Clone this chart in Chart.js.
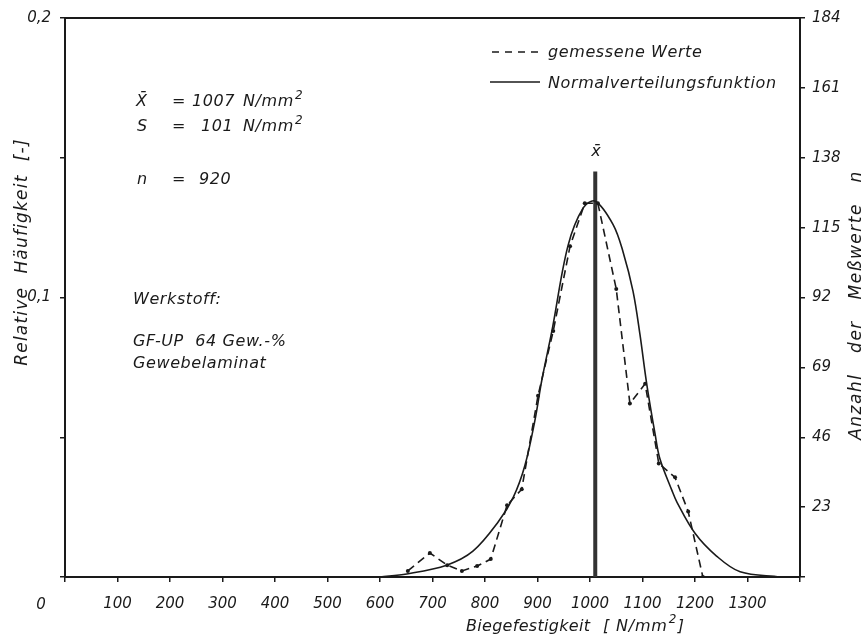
<!DOCTYPE html>
<html><head><meta charset="utf-8">
<script src="https://cdn.jsdelivr.net/npm/chart.js@4"></script>
<style>html,body{margin:0;padding:0;background:#fff}canvas{display:block}</style>
</head><body>
<canvas id="c" width="868" height="638"></canvas>
<script>
// measured values (gemessene Werte): Biegefestigkeit [N/mm2] vs. count n
const measX = [653, 695, 728, 756, 785, 811, 842, 870, 901, 930, 962, 990, 1015, 1050, 1076, 1105, 1131, 1162, 1187, 1215];
const measN = [2.0, 7.9, 3.9, 2.0, 3.6, 5.9, 23.6, 28.9, 59.7, 81.0, 108.9, 123.0, 123.0, 94.8, 57.1, 63.6, 37.4, 32.8, 21.6, 0];
// normal distribution curve
const curveX = [600, 651, 727, 777, 825, 854, 876, 895, 908, 928, 958, 987, 1010, 1044, 1063, 1082, 1095, 1108, 1124, 1133, 1156, 1166, 1200, 1241, 1286, 1362];
const curveN = [0, 1.0, 3.9, 8.5, 18.1, 26.3, 36.7, 51.5, 64.6, 81.5, 109, 121.5, 123.7, 116, 107, 94, 80, 63.6, 47, 39, 28.5, 24.5, 14.4, 6.9, 1.7, 0];
// mean marker
const meanX = [1010, 1010];
const meanN = [0, 133.5];
// tick labels
const relTickValues = [0.1, 0.2];
const relTickLabels = ['0,1', '0,2'];
const countTicks = [23, 46, 69, 92, 115, 138, 161, 184];
const strengthTicks = [100, 200, 300, 400, 500, 600, 700, 800, 900, 1000, 1100, 1200, 1300];

const INK = '#1a1a1a';
const FONT = '"DejaVu Sans", sans-serif';
const tickFont = {family: FONT, size: 15, style: 'italic'};

function pts(xs, ys) { return xs.map((x, i) => ({x: x, y: ys[i]})); }

function drawSup(ctx, base, sup, x, y, size) {
  ctx.font = 'italic ' + size + 'px ' + FONT;
  ctx.fillText(base, x, y);
  const w = ctx.measureText(base).width;
  ctx.font = 'italic ' + Math.round(size * 0.78) + 'px ' + FONT;
  ctx.fillText(sup, x + w + 1, y - size * 0.45);
}

const textPlugin = {
  id: 'texts',
  afterDraw(chart) {
    const ctx = chart.ctx, a = chart.chartArea;
    ctx.save();
    // frame top line
    ctx.strokeStyle = INK; ctx.lineWidth = 2;
    ctx.beginPath(); ctx.moveTo(a.left, a.top); ctx.lineTo(a.right, a.top); ctx.stroke();
    ctx.fillStyle = INK;
    ctx.textBaseline = 'alphabetic';
    ctx.textAlign = 'left';
    ctx.letterSpacing = '0.6px';
    const f = 'italic 16px ' + FONT;
    ctx.font = f;
    // statistics block
    ctx.fillText('X\u0304', 136, 106); ctx.fillText('=', 172, 106); ctx.fillText('1007', 192, 106);
    drawSup(ctx, 'N/mm', '2', 243, 106, 16);
    ctx.font = f;
    ctx.fillText('S', 137, 131); ctx.fillText('=', 172, 131); ctx.fillText('101', 201, 131);
    drawSup(ctx, 'N/mm', '2', 243, 131, 16);
    ctx.font = f;
    ctx.fillText('n', 137, 184); ctx.fillText('=', 172, 184); ctx.fillText('920', 199, 184);
    ctx.fillText('Werkstoff:', 133, 304);
    ctx.fillText('GF-UP  64 Gew.-%', 133, 346);
    ctx.fillText('Gewebelaminat', 133, 368);
    // mean label
    ctx.textAlign = 'center';
    ctx.fillText('x\u0304', chart.scales.x.getPixelForValue(meanX[0]) + 1, 156);
    // legend
    ctx.textAlign = 'left';
    ctx.lineWidth = 1.6;
    ctx.setLineDash([7, 6]);
    ctx.beginPath(); ctx.moveTo(492, 52); ctx.lineTo(542, 52); ctx.stroke();
    ctx.setLineDash([]);
    ctx.beginPath(); ctx.moveTo(490, 82); ctx.lineTo(540, 82); ctx.stroke();
    ctx.fillText('gemessene Werte', 548, 57);
    ctx.fillText('Normalverteilungsfunktion', 548, 88);
    // axis titles
    ctx.font = 'italic 17px ' + FONT;
    ctx.letterSpacing = '1.2px';
    ctx.save();
    ctx.translate(27, 252); ctx.rotate(-Math.PI / 2);
    ctx.textAlign = 'center';
    ctx.fillText('Relative  Häufigkeit  [-]', 0, 0);
    ctx.restore();
    ctx.letterSpacing = '1.5px';
    ctx.save();
    ctx.translate(861, 305); ctx.rotate(-Math.PI / 2);
    ctx.textAlign = 'center';
    ctx.fillText('Anzahl   der   Meßwerte   n', 0, 0);
    ctx.restore();
    ctx.font = f;
    ctx.letterSpacing = '0.3px';
    ctx.textAlign = 'left';
    ctx.fillText('Biegefestigkeit', 466, 631);
    ctx.letterSpacing = '0.8px';
    ctx.fillText('[ N/mm', 603, 631);
    const w = ctx.measureText('[ N/mm').width;
    ctx.font = 'italic 12px ' + FONT;
    ctx.fillText('2', 603 + w + 1, 623);
    ctx.font = f;
    ctx.fillText(']', 603 + w + 10, 631);
    // zero label of the strength axis
    ctx.letterSpacing = '0px';
    ctx.font = 'italic 15px ' + FONT;
    ctx.textAlign = 'center';
    ctx.fillText('0', 41, 609);
    ctx.restore();
  }
};

new Chart(document.getElementById('c'), {
  type: 'line',
  data: {
    datasets: [
      {label: 'Normalverteilungsfunktion', data: pts(curveX, curveN), xAxisID: 'x', yAxisID: 'y2',
       borderColor: INK, borderWidth: 1.6, pointRadius: 0, tension: 0.35, fill: false},
      {label: 'gemessene Werte', data: pts(measX, measN), xAxisID: 'x', yAxisID: 'y2',
       borderColor: INK, borderWidth: 1.6, borderDash: [8, 5], pointRadius: 2, pointBackgroundColor: INK,
       pointBorderWidth: 0, tension: 0, fill: false},
      {label: 'mean', data: pts(meanX, meanN), xAxisID: 'x', yAxisID: 'y2',
       borderColor: '#333', borderWidth: 4, pointRadius: 0, fill: false}
    ]
  },
  options: {
    responsive: false, animation: false, devicePixelRatio: 1,
    layout: {padding: {top: 16, left: 0, right: 0, bottom: 0}},
    plugins: {legend: {display: false}, tooltip: {enabled: false}},
    scales: {
      x: {type: 'linear', position: 'bottom', min: 0, max: 1400,
        afterFit: s => { s.height = 61; },
        afterBuildTicks: s => { s.ticks = [0].concat(strengthTicks, [1400]).map(v => ({value: v})); },
        ticks: {callback: v => strengthTicks.includes(v) ? String(v) : '', color: INK, font: tickFont, padding: 13, maxRotation: 0, autoSkip: false},
        grid: {display: true, drawOnChartArea: false, drawTicks: true, tickLength: 5, color: INK, lineWidth: 1.5},
        border: {display: true, color: INK, width: 2}},
      y: {type: 'linear', position: 'left', min: 0, max: 0.2,
        afterFit: s => { s.width = 65; },
        afterBuildTicks: s => { s.ticks = [0, 0.05, 0.1, 0.15, 0.2].map(v => ({value: v})); },
        ticks: {callback: v => { const i = relTickValues.findIndex(t => Math.abs(t - v) < 1e-9); return i >= 0 ? relTickLabels[i] : ''; },
          color: INK, font: tickFont, padding: 9},
        grid: {display: true, drawOnChartArea: false, drawTicks: true, tickLength: 5, color: INK, lineWidth: 1.5},
        border: {display: true, color: INK, width: 2}},
      y2: {type: 'linear', position: 'right', min: 0, max: 184,
        afterFit: s => { s.width = 68; },
        afterBuildTicks: s => { s.ticks = [0].concat(countTicks).map(v => ({value: v})); },
        ticks: {callback: v => countTicks.includes(v) ? String(v) : '', color: INK, font: tickFont, padding: 7},
        grid: {display: true, drawOnChartArea: false, drawTicks: true, tickLength: 5, color: INK, lineWidth: 1.5},
        border: {display: true, color: INK, width: 2}}
    }
  },
  plugins: [textPlugin]
});
</script>
</body></html>
